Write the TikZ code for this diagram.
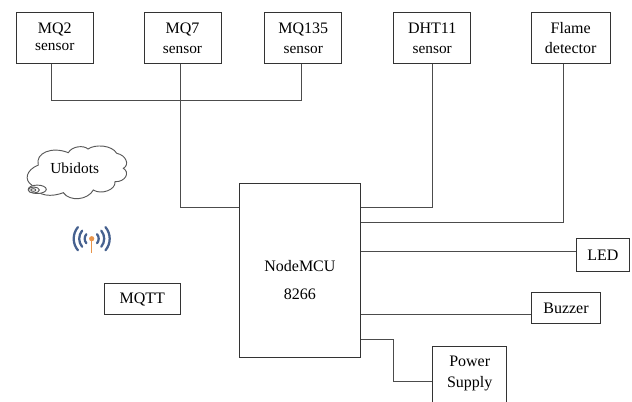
\documentclass[tikz,border=0pt]{standalone}
\usepackage{fontspec}
\setmainfont{Liberation Serif}
\definecolor{sigblue}{HTML}{46618F}
\definecolor{antorange}{HTML}{E8944A}
\newcommand{\zl}[2]{\raisebox{#1}[0pt][0pt]{#2}}
\newcommand{\snr}{\fontsize{11.5}{14}\selectfont sensor}
\begin{document}
\begin{tikzpicture}[x=0.75pt,y=-0.75pt,
  box/.style={draw=black!80,line width=0.75pt,inner sep=0pt,align=center,font=\fontsize{12}{15.5}\selectfont},
  wire/.style={draw=black!70,line width=0.75pt},
  cloudline/.style={draw=black!65,line width=0.7pt,fill=white},
  sig/.style={draw=sigblue,line width=1.7pt,line cap=round}]
\useasboundingbox (0,0) rectangle (632,401);
\node[box,minimum width=57.75pt,minimum height=37.7pt,font=\fontsize{12}{13}\selectfont] (mq2) at (54.8,37.9) {\zl{-3.1pt}{MQ2}\\\zl{-3.1pt}{\snr}};
\node[box,minimum width=57.75pt,minimum height=37.7pt] (mq7) at (182.5,37.9) {\zl{-4.3pt}{MQ7}\\\zl{-4.3pt}{\snr}};
\node[box,minimum width=57.75pt,minimum height=37.7pt] (mq135) at (303.3,37.9) {\zl{-4.3pt}{MQ135}\\\zl{-4.3pt}{\snr}};
\node[box,minimum width=57.75pt,minimum height=37.7pt] (dht) at (432.2,37.9) {\zl{-4.3pt}{DHT11}\\\zl{-4.3pt}{\snr}};
\node[box,minimum width=59pt,minimum height=37.7pt] (flame) at (570.7,37.9) {\zl{-4.3pt}{Flame}\\\zl{-4.3pt}{detector}};
\node[box,minimum width=91.3pt,minimum height=130.8pt,font=\fontsize{12}{21}\selectfont] (mcu) at (299.9,270.2) {\zl{-11.5pt}{NodeMCU}\\\zl{-11.5pt}{8266}};
\node[box,minimum width=39.8pt,minimum height=24.8pt] (led) at (602.8,255.2) {LED};
\node[box,minimum width=52pt,minimum height=23.2pt] (buzzer) at (566,308.2) {Buzzer};
\node[box,minimum width=57.2pt,minimum height=23.2pt] (mqtt) at (142.2,299.2) {MQTT};
\node[box,minimum width=55.5pt,minimum height=45pt,anchor=north,font=\fontsize{12}{16}\selectfont] (power) at (469.7,346.3) {\zl{-0.3pt}{Power}\\\zl{-0.3pt}{Supply}};
\coordinate (busl) at (51,100.3);
\coordinate (busr) at (301,100.3);
\draw[wire] (mq2.south -| busl) -- (busl) -- (busr) -- (mq135.south -| busr);
\draw[wire] (mq7.south -| 180.3,0) -- (180.3,207) -- (mcu.west |- 0,207);
\draw[wire] (dht.south -| 432.7,0) -- (432.7,207) -- (mcu.east |- 0,207);
\draw[wire] (flame.south -| 563.3,0) -- (563.3,222.7) -- (mcu.east |- 0,222.7);
\draw[wire] (mcu.east |- 0,251) -- (led.west |- 0,251);
\draw[wire] (mcu.east |- 0,314.7) -- (buzzer.west |- 0,314.7);
\draw[wire] (mcu.east |- 0,339.3) -- (393.7,339.3) -- (393.7,381.3) -- (power.west |- 0,381.3);
% cloud
\draw[cloudline] (38.3,165)
  .. controls (35,153) and (52,146) .. (68.3,152.7)
  .. controls (72,146) and (84,145) .. (88,149)
  .. controls (95,144) and (112,145) .. (116.7,153.3)
  .. controls (126,155) and (130,165) .. (123.3,168.3)
  .. controls (130,172) and (126,182) .. (115,181.7)
  .. controls (116,190) and (101,195) .. (93.3,190)
  .. controls (88,200) and (70,202) .. (63.3,192.7)
  .. controls (52,197) and (38,197) .. (31.7,185)
  .. controls (24,180) and (26,170) .. (38.3,165) -- cycle;
\draw[cloudline] (37.3,189.3) ellipse (9 and 4.2);
\draw[cloudline] (33.8,190) ellipse (5.5 and 3);
\draw[cloudline] (33.3,190) ellipse (2.5 and 1.3);
\node[font=\fontsize{11.5}{14}\selectfont,inner sep=0pt] (ubi) at (74.7,168) {Ubidots};
% antenna
\draw[antorange,line width=0.9pt] (91.7,239) -- (91.7,253);
\foreach \r in {7,12.5,18}{
  \draw[sig] (91.7,238.7) ++(40:\r) arc (40:-40:\r);
  \draw[sig] (91.7,238.7) ++(140:\r) arc (140:220:\r);
}
\fill[antorange] (91.7,238.7) circle (2.6);
\end{tikzpicture}
\end{document}
